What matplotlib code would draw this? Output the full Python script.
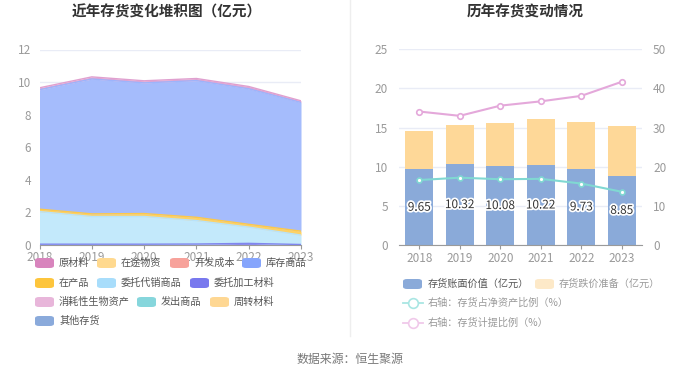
import matplotlib
matplotlib.use("Agg")
import matplotlib.pyplot as plt
import matplotlib.patheffects as pe
from matplotlib.patches import FancyBboxPatch
from matplotlib.lines import Line2D
import numpy as np

plt.rcParams['font.family'] = ['Noto Sans CJK SC', 'DejaVu Sans']

years = ['2018', '2019', '2020', '2021', '2022', '2023']

# Left chart stacked components (亿元)
wt_jg = [0.05, 0.05, 0.05, 0.06, 0.10, 0.03]      # 委托加工材料
wt_dx = [2.00, 1.70, 1.70, 1.44, 1.00, 0.58]      # 委托代销商品
zcp = [0.15, 0.16, 0.18, 0.20, 0.17, 0.24]        # 在产品
kcsp = [7.33, 8.28, 8.02, 8.39, 8.32, 7.90]       # 库存商品
ycl = [0.12, 0.13, 0.13, 0.13, 0.14, 0.10]        # 原材料

# Right chart
book_value = [9.65, 10.32, 10.08, 10.22, 9.73, 8.85]
provision = [4.95, 5.01, 5.50, 5.88, 5.94, 6.31]
ratio_net_assets = [16.6, 17.2, 16.8, 16.9, 15.7, 13.6]
ratio_provision = [34.1, 33.0, 35.6, 36.7, 38.1, 41.7]

left_legend = ['原材料', '在途物资', '开发成本', '库存商品', '在产品', '委托代销商品',
               '委托加工材料', '消耗性生物资产', '发出商品', '周转材料', '其他存货']
left_legend_colors = ['#d884bd', '#ffd98f', '#f7a29b', '#86a5fc', '#fdc53c', '#a8ddfb',
                      '#7878ee', '#e8b6da', '#86d6dc', '#fed793', '#8aaadb']

W, H = 700, 378
fig = plt.figure(figsize=(7, 3.78), dpi=100)

def fx(px):
    return px / W

def fy(py):
    return 1 - py / H

tick_color = '#9a9a9a'
grid_color = '#e9ecf6'

# ---------- Left chart ----------
axL = fig.add_axes([fx(39.5), fy(245), fx(301 - 39.5), (245 - 49.5) / H])
x = np.arange(len(years))
layers = [wt_jg, wt_dx, zcp, kcsp, ycl]
fill_cols = ['#8f8ef0', '#c3e9fb', '#fdd267', '#a5bcfc', '#e2a6d3']
line_cols = ['#7f86ee', '#b8e2fa', '#fdc84a', '#9db4fb', '#e0a0cf']
base = np.zeros(len(years))
for vals, fc, lc in zip(layers, fill_cols, line_cols):
    top = base + np.array(vals)
    axL.fill_between(x, base, top, color=fc, lw=0, zorder=2)
    axL.plot(x, top, color=lc, lw=1.0, zorder=3)
    base = top
axL.set_xlim(0, 5)
axL.set_ylim(0, 12)
axL.set_yticks(range(0, 13, 2))
axL.set_xticks(x)
axL.set_xticklabels(years)
axL.grid(axis='y', color=grid_color, lw=1, zorder=0)
for s in ['top', 'right', 'left']:
    axL.spines[s].set_visible(False)
axL.spines['bottom'].set_color('#9a9a9a')
axL.tick_params(axis='y', length=0, colors=tick_color, labelsize=8.5, pad=6)
axL.tick_params(axis='x', length=3, color='#9a9a9a', colors=tick_color, labelsize=8.5, pad=1)

# ---------- Right chart ----------
axR = fig.add_axes([fx(399), fy(245), fx(642 - 399), (245 - 49.3) / H])
xr = np.arange(len(years))
axR.bar(xr, book_value, width=0.7, color='#8aaad9', zorder=2)
axR.bar(xr, provision, width=0.7, bottom=book_value, color='#fed898', zorder=2)
for xi, v in zip(xr, book_value):
    axR.text(xi, v / 2, f'{v:.2f}', ha='center', va='center', fontsize=8.5, color='#333333',
             zorder=5, path_effects=[pe.withStroke(linewidth=2.5, foreground='white')])
axR.set_xlim(-0.5, 5.5)
axR.set_ylim(0, 25)
axR.set_yticks(range(0, 26, 5))
axR.set_xticks(xr)
axR.set_xticklabels(years)
axR.grid(axis='y', color=grid_color, lw=1, zorder=0)
for s in ['top', 'right', 'left']:
    axR.spines[s].set_visible(False)
axR.spines['bottom'].set_color('#9a9a9a')
axR.tick_params(axis='y', length=0, colors=tick_color, labelsize=8.5, pad=8)
axR.tick_params(axis='x', length=3, color='#9a9a9a', colors=tick_color, labelsize=8.5, pad=2)
axR.set_axisbelow(True)

axR2 = axR.twinx()
axR2.set_ylim(0, 50)
axR2.set_yticks(range(0, 51, 10))
axR2.plot(xr, ratio_net_assets, color='#80d8d2', lw=1.5, marker='o', ms=3.5,
          mfc='white', mec='#80d8d2', mew=1.2, zorder=4)
axR2.plot(xr, ratio_provision, color='#e4a8da', lw=1.5, marker='o', ms=4,
          mfc='white', mec='#e4a8da', mew=1.2, zorder=4)
for s in ['top', 'right', 'left', 'bottom']:
    axR2.spines[s].set_visible(False)
axR2.tick_params(axis='y', length=0, colors=tick_color, labelsize=8.5, pad=8)

# ---------- Titles / divider / source ----------
fig.text(fx(167), fy(12), '近年存货变化堆积图（亿元）', ha='center', va='center',
         fontsize=10.5, fontweight='bold', color='#333333')
fig.text(fx(525), fy(12), '历年存货变动情况', ha='center', va='center',
         fontsize=10.5, fontweight='bold', color='#333333')
fig.add_artist(Line2D([fx(350), fx(350)], [fy(0), fy(336)], color='#eeeeee', lw=1))
fig.text(fx(350), fy(359), '数据来源：恒生聚源', ha='center', va='center',
         fontsize=8.6, color='#777777')

# ---------- Left legend ----------
def swatch(px, py, color, w=19, h=10):
    p = FancyBboxPatch((fx(px), fy(py + h / 2)), fx(w), h / H,
                       boxstyle='round,pad=0,rounding_size=0.006',
                       transform=fig.transFigure, facecolor=color, edgecolor='none')
    fig.add_artist(p)

left_pos = [(35, 263), (97, 263), (170, 263), (242, 263),
            (35, 283), (97, 283), (190, 283),
            (35, 302), (137, 302), (210, 302),
            (35, 321)]
for (px, py), lab, col in zip(left_pos, left_legend, left_legend_colors):
    swatch(px, py, col)
    fig.text(fx(px + 24), fy(py), lab, ha='left', va='center', fontsize=7.3, color='#555555')

# ---------- Right legend ----------
swatch(403, 284, '#8aaad9')
fig.text(fx(428), fy(284), '存货账面价值（亿元）', ha='left', va='center', fontsize=7.3, color='#555555')
swatch(535, 284, '#fde9c8')
fig.text(fx(559), fy(284), '存货跌价准备（亿元）', ha='left', va='center', fontsize=7.3, color='#999999')
for py, col, lab in [(303, '#a9e6e3', '右轴：存货占净资产比例（%）'),
                     (323, '#f0c9ea', '右轴：存货计提比例（%）')]:
    fig.add_artist(Line2D([fx(403), fx(423)], [fy(py), fy(py)], color=col, lw=1.3,
                          transform=fig.transFigure))
    fig.add_artist(Line2D([fx(413)], [fy(py)], color=col, marker='o', ms=7, mfc='white',
                          mec=col, mew=1.2, lw=0, transform=fig.transFigure))
    fig.text(fx(428), fy(py), lab, ha='left', va='center', fontsize=7.3, color='#999999')

fig.savefig('out.png', dpi=100, facecolor='white')
